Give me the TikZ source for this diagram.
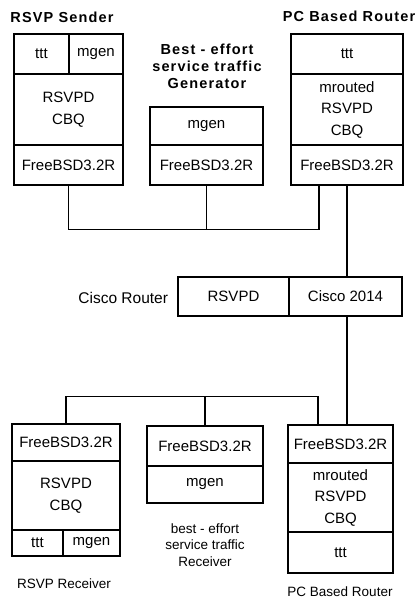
\documentclass[tikz,border=0pt]{standalone}
\usepackage{fontspec}
\setmainfont{Liberation Sans}
\newfontfamily\titlefont{Liberation Sans}[LetterSpace=8]

\begin{document}
\begin{tikzpicture}[x=1pt,y=-1pt,line width=1.3pt,
  cell/.style={draw, inner sep=0pt, align=center, font=\fontsize{15}{21.5}\selectfont},
  title/.style={font=\titlefont\bfseries\fontsize{14.5}{17}\selectfont, align=center},
  caption/.style={font=\fontsize{13.5}{16.5}\selectfont, align=center}]
\useasboundingbox (0,0) rectangle (416,601);
% RSVP Sender
\node[title] (stitle) at (62,17) {RSVP Sender};
\node[cell, minimum width=55pt, minimum height=40pt] (sttt) at (41.5,54) {ttt};
\node[cell, minimum width=54pt, minimum height=40pt] (smgen) at (96,54) {mgen};
\node[cell, minimum width=109pt, minimum height=71pt] (scbq) at (68.5,109.5) {RSVPD\\CBQ};
\node[cell, minimum width=109pt, minimum height=40pt] (sbsd) at (68.5,165) {FreeBSD3.2R};
% Best-effort generator
\node[title] (gtitle) at (207,66) {Best - effort\\service traffic\\Generator};
\node[cell, minimum width=113pt, minimum height=38pt] (gmgen) at (206.5,126) {mgen};
\node[cell, minimum width=113pt, minimum height=40pt] (gbsd) at (206.5,165) {FreeBSD3.2R};
% PC router (top)
\node[title] (ptitle) at (349,16) {PC Based Router};
\node[cell, minimum width=112pt, minimum height=40pt] (pttt) at (347,54) {ttt};
\node[cell, minimum width=112pt, minimum height=71pt] (pcbq) at (347,109.5) {mrouted\\RSVPD\\CBQ};
\node[cell, minimum width=112pt, minimum height=40pt] (pbsd) at (347,165) {FreeBSD3.2R};
% Cisco router
\node[cell, minimum width=111pt, minimum height=39pt] (crsvp) at (233.5,296.5) {RSVPD};
\node[cell, minimum width=113pt, minimum height=39pt] (ccisco) at (345.5,296.5) {Cisco 2014};
\node[anchor=east, font=\fontsize{15.5}{17}\selectfont] (ctitle) at (172,298) {Cisco Router};
% RSVP Receiver
\node[cell, minimum width=108pt, minimum height=37pt] (rbsd) at (66,442.5) {FreeBSD3.2R};
\node[cell, minimum width=108pt, minimum height=69pt] (rcbq) at (66,495.5) {RSVPD\\CBQ};
\node[cell, minimum width=51pt, minimum height=26pt] (rttt) at (37.5,543) {ttt};
\node[cell, minimum width=57pt, minimum height=26pt] (rmgen) at (91.5,543) {mgen};
\node[caption] (rtitle) at (64,584) {RSVP Receiver};
% Best-effort receiver
\node[cell, minimum width=116pt, minimum height=40pt] (hbsd) at (205,446) {FreeBSD3.2R};
\node[cell, minimum width=116pt, minimum height=37pt] (hmgen) at (205,484.5) {mgen};
\node[caption] (htitle) at (205,545) {best - effort\\service traffic\\Receiver};
% PC router (bottom)
\node[cell, minimum width=105pt, minimum height=38pt] (qbsd) at (340.5,444) {FreeBSD3.2R};
\node[cell, minimum width=105pt, minimum height=69pt] (qcbq) at (340.5,497.5) {mrouted\\RSVPD\\CBQ};
\node[cell, minimum width=105pt, minimum height=41pt] (qttt) at (340.5,552.5) {ttt};
\node[caption] (qtitle) at (340,592) {PC Based Router};
% links
\draw (sbsd.south) -- ++(0,44) -| ([xshift=-28pt]pbsd.south);
\draw (gbsd.south) -- ++(0,44);
\draw (pbsd.south) -- (pbsd.south |- ccisco.north);
\draw (pbsd.south |- ccisco.south) -- (pbsd.south |- qbsd.north);
\draw (rbsd.north) -- ++(0,-27) -| ([xshift=-22.5pt]qbsd.north);
\draw (hbsd.north) -- ++(0,-29);
\end{tikzpicture}
\end{document}
